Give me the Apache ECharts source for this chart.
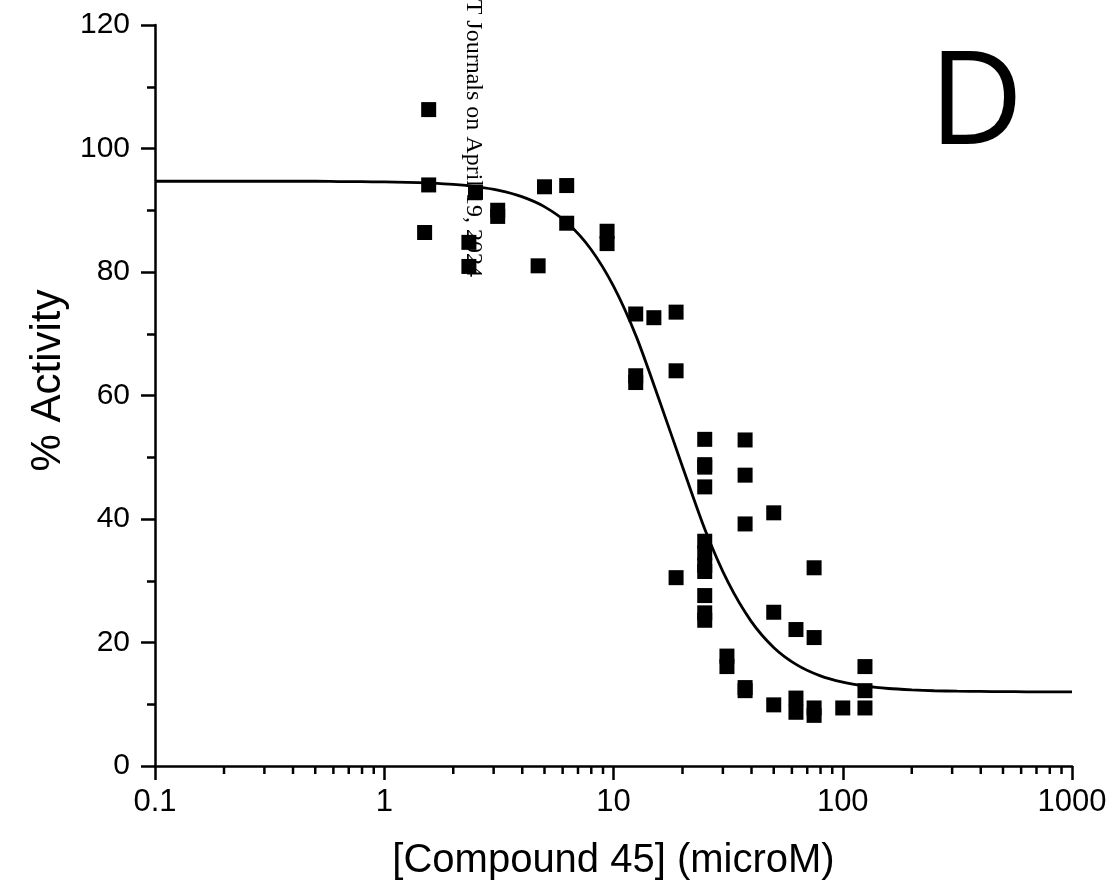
<!DOCTYPE html>
<html>
<head>
<meta charset="utf-8">
<script src="https://cdn.jsdelivr.net/npm/echarts@6/dist/echarts.min.js"></script>
<style>
html,body{margin:0;padding:0;background:#fff;}
#chart{width:1114px;height:895px;}
</style>
</head>
<body>
<div id="chart"></div>
<script>
// Measured points: concentration (microM) and % activity
const concentration = [
  1.5625, 1.5625, 1.5,
  2.34, 2.34, 2.5,
  3.125, 3.125, 4.69, 5,
  6.25, 6.25, 9.375, 9.375,
  12.5, 12.5, 12.5, 15,
  18.75, 18.75, 18.75,
  25, 25, 25, 25, 25, 25, 25, 25, 25, 25, 25,
  31.25, 31.25,
  37.5, 37.5, 37.5, 37.5, 37.5,
  50, 50, 50,
  62.5, 62.5, 62.5,
  75, 75, 75, 75,
  100,
  125, 125, 125
];
const activity = [
  106.3, 94.1, 86.4,
  84.8, 80.9, 92.9,
  90.0, 89.0, 81.0, 93.8,
  94.0, 87.9, 86.6, 84.6,
  73.2, 63.2, 62.1, 72.6,
  73.5, 64.0, 30.5,
  52.9, 48.8, 48.4, 45.2, 36.4, 34.5, 32.5, 31.5, 27.6, 24.8, 23.6,
  17.8, 16.1,
  52.8, 47.1, 39.2, 12.7, 12.2,
  41.0, 24.9, 9.9,
  22.1, 11.0, 8.7,
  32.1, 20.8, 9.4, 8.2,
  9.4,
  16.1, 12.2, 9.4
];
// Fitted curve (about every 0.1 decade)
const curveX = [0.1, 0.126, 0.158, 0.2, 0.251, 0.316, 0.398, 0.501, 0.631, 0.794,
  1, 1.26, 1.58, 2, 2.51, 3.16, 3.98, 5.01, 6.31, 7.94,
  10, 12.6, 15.8, 20, 25.1, 31.6, 39.8, 50.1, 63.1, 79.4,
  100, 126, 158, 200, 251, 316, 398, 501, 631, 794, 1000];
const curveY = [94.7, 94.7, 94.7, 94.7, 94.7, 94.7, 94.7, 94.7, 94.65, 94.62,
  94.59, 94.52, 94.39, 94.18, 93.82, 93.21, 92.2, 90.55, 87.89, 83.76,
  77.7, 69.45, 59.35, 48.47, 38.23, 29.76, 23.47, 19.16, 16.37, 14.63,
  13.57, 12.93, 12.55, 12.33, 12.19, 12.11, 12.07, 12.04, 12.02, 12.01, 12.01];
// Log-axis minor tick positions
const minorTicksX = [0.2,0.3,0.4,0.5,0.6,0.7,0.8,0.9, 2,3,4,5,6,7,8,9, 20,30,40,50,60,70,80,90, 200,300,400,500,600,700,800,900];
const xAxisTitle = '[Compound 45] (microM)';
const yAxisTitle = '% Activity';
const panelLabel = 'D';
const watermark = 'Downloaded from molpharm.aspetjournals.org at ASPET Journals on April 19, 2024';

const scatterData = concentration.map((c, i) => [c, activity[i]]);
const curveData = curveX.map((c, i) => [c, curveY[i]]);

const chart = echarts.init(document.getElementById('chart'), null, {renderer: 'canvas'});
const fam = 'Liberation Sans, Arial, sans-serif';

chart.setOption({
  backgroundColor: '#fff',
  animation: false,
  grid: {left: 155, right: 42, top: 25, bottom: 129, containLabel: false, outerBoundsMode: 'none'},
  xAxis: {
    type: 'log', logBase: 10, min: 0.1, max: 1000,
    name: xAxisTitle, nameLocation: 'middle', nameGap: 75,
    nameTextStyle: {color: '#000', fontFamily: fam, fontSize: 40},
    axisLine: {show: true, onZero: false, lineStyle: {color: '#000', width: 2.5}},
    axisTick: {show: true, inside: false, length: 14, lineStyle: {color: '#000', width: 2.5}},
    minorTick: {show: false},
    splitLine: {show: false},
    axisLabel: {margin: 21, color: '#000', fontFamily: fam, fontSize: 31, formatter: v => String(+v.toPrecision(6))}
  },
  yAxis: {
    type: 'value', min: 0, max: 120, interval: 20,
    name: yAxisTitle, nameLocation: 'middle', nameGap: 73, nameRotate: 90,
    nameTextStyle: {color: '#000', fontFamily: fam, fontSize: 42, padding: [0, 0, 0, 30]},
    axisLine: {show: true, lineStyle: {color: '#000', width: 2.5}},
    axisTick: {show: true, inside: false, length: 14, lineStyle: {color: '#000', width: 2.5}},
    minorTick: {show: true, splitNumber: 2, length: 8, lineStyle: {color: '#000', width: 2.5}},
    splitLine: {show: false},
    axisLabel: {margin: 25, color: '#000', fontFamily: fam, fontSize: 30}
  },
  graphic: [
    {
      type: 'text', x: 929, y: 107, z: 10,
      style: {text: panelLabel, fontFamily: 'Open Sans, Noto Sans, sans-serif', fontSize: 130, fill: '#000', align: 'left', verticalAlign: 'middle'}
    },
    {
      type: 'text', x: 461, y: 277, rotation: -Math.PI / 2, z: -1,
      style: {text: watermark, fontFamily: 'Liberation Serif, Times New Roman, serif', fontSize: 24, fill: '#000', align: 'right', verticalAlign: 'bottom'}
    }
  ],
  series: [
    {
      type: 'line', data: curveData, showSymbol: false, symbol: 'none',
      smooth: 0.25, clip: false,
      lineStyle: {color: '#000', width: 2.8}, z: 3, silent: true
    },
    {
      type: 'scatter', data: scatterData, symbol: 'rect', symbolSize: 15,
      itemStyle: {color: '#000', opacity: 1}, z: 4, silent: true
    },
    {
      type: 'custom', data: minorTicksX.map(v => [v, 0]), clip: false, silent: true, z: 5,
      renderItem: function (params, api) {
        const p = api.coord([api.value(0), api.value(1)]);
        return {type: 'line', shape: {x1: p[0], y1: p[1], x2: p[0], y2: p[1] + 8},
          style: {stroke: '#000', lineWidth: 2.5}};
      }
    }
  ]
});
</script>
</body>
</html>
